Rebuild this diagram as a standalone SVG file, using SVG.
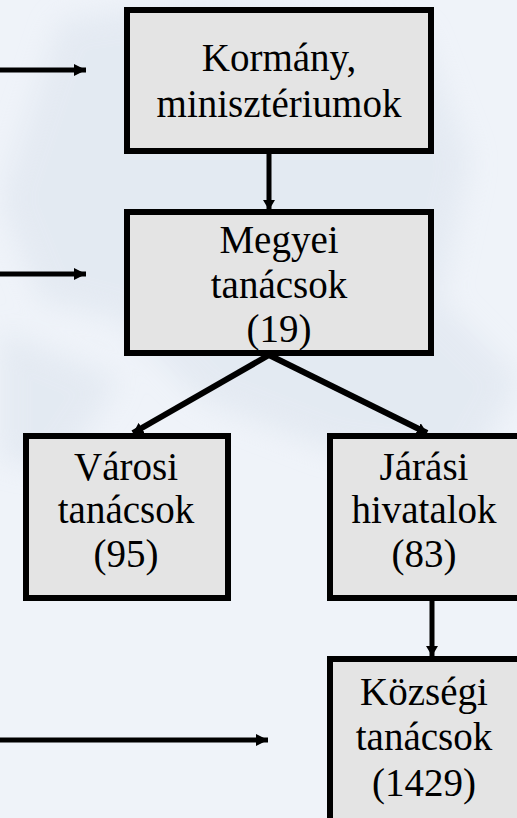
<svg xmlns="http://www.w3.org/2000/svg" width="517" height="818" viewBox="0 0 517 818">
<style>
.box{fill:#e4e4e4;stroke:#000;stroke-width:6}
.t{font-family:"Liberation Serif","Times New Roman",serif;font-size:39px;fill:#000;text-anchor:middle}
.c{stroke:#000;fill:none}
</style>
<defs>
<marker id="ah" markerUnits="userSpaceOnUse" markerWidth="13" markerHeight="13" viewBox="0 0 13 13" refX="12" refY="6.5" orient="auto">
<path d="M0,0.5 L12,6.5 L0,12.5 Z" fill="#000"/>
</marker>
<marker id="ahs" markerUnits="userSpaceOnUse" markerWidth="11" markerHeight="12" viewBox="0 0 11 12" refX="10" refY="6" orient="auto">
<path d="M0,0 L10,6 L0,12 Z" fill="#000"/>
</marker>
<filter id="bl"><feGaussianBlur stdDeviation="14"/></filter>
</defs>
<rect width="517" height="818" fill="#eff3f9"/>
<g opacity="0.55" filter="url(#bl)" fill="#dbe3ed">
<path d="M60,20 L200,0 L420,30 L470,160 L440,300 L520,380 L470,470 L330,450 L200,400 L120,320 L40,300 L0,200 Z"/>
<path d="M0,330 L120,380 L60,470 L0,460 Z"/>
</g>
<g id="connectors">
<line class="c" x1="0" y1="70" x2="86" y2="70" stroke-width="5" marker-end="url(#ah)"/>
<line class="c" x1="0" y1="274" x2="86" y2="274" stroke-width="5" marker-end="url(#ah)"/>
<line class="c" x1="0" y1="740" x2="268" y2="740" stroke-width="5" marker-end="url(#ah)"/>
<line class="c" x1="269" y1="154" x2="269" y2="210" stroke-width="5" marker-end="url(#ahs)"/>
<line class="c" x1="269" y1="355" x2="133" y2="433" stroke-width="6" marker-end="url(#ahs)"/>
<line class="c" x1="269" y1="355" x2="427" y2="433" stroke-width="6" marker-end="url(#ahs)"/>
<line class="c" x1="432" y1="601" x2="432" y2="656" stroke-width="5" marker-end="url(#ahs)"/>
</g>
<g id="kormany">
<rect class="box" x="127" y="10" width="304" height="141"/>
<text class="t" x="279" y="71">Kormány,</text>
<text class="t" x="279" y="117">minisztériumok</text>
</g>
<g id="megyei">
<rect class="box" x="127" y="212" width="304" height="141"/>
<text class="t" x="279" y="253">Megyei</text>
<text class="t" x="279" y="298">tanácsok</text>
<text class="t" x="279" y="342">(19)</text>
</g>
<g id="varosi">
<rect class="box" x="26" y="436" width="202" height="162"/>
<text class="t" x="126" y="480">Városi</text>
<text class="t" x="126" y="523">tanácsok</text>
<text class="t" x="126" y="567">(95)</text>
</g>
<g id="jarasi">
<rect class="box" x="330" y="436" width="195" height="162"/>
<text class="t" x="424" y="480">Járási</text>
<text class="t" x="424" y="523">hivatalok</text>
<text class="t" x="424" y="567">(83)</text>
</g>
<g id="kozsegi">
<rect class="box" x="330" y="659" width="195" height="200"/>
<text class="t" x="424" y="705">Községi</text>
<text class="t" x="424" y="750">tanácsok</text>
<text class="t" x="424" y="796">(1429)</text>
</g>
</svg>
